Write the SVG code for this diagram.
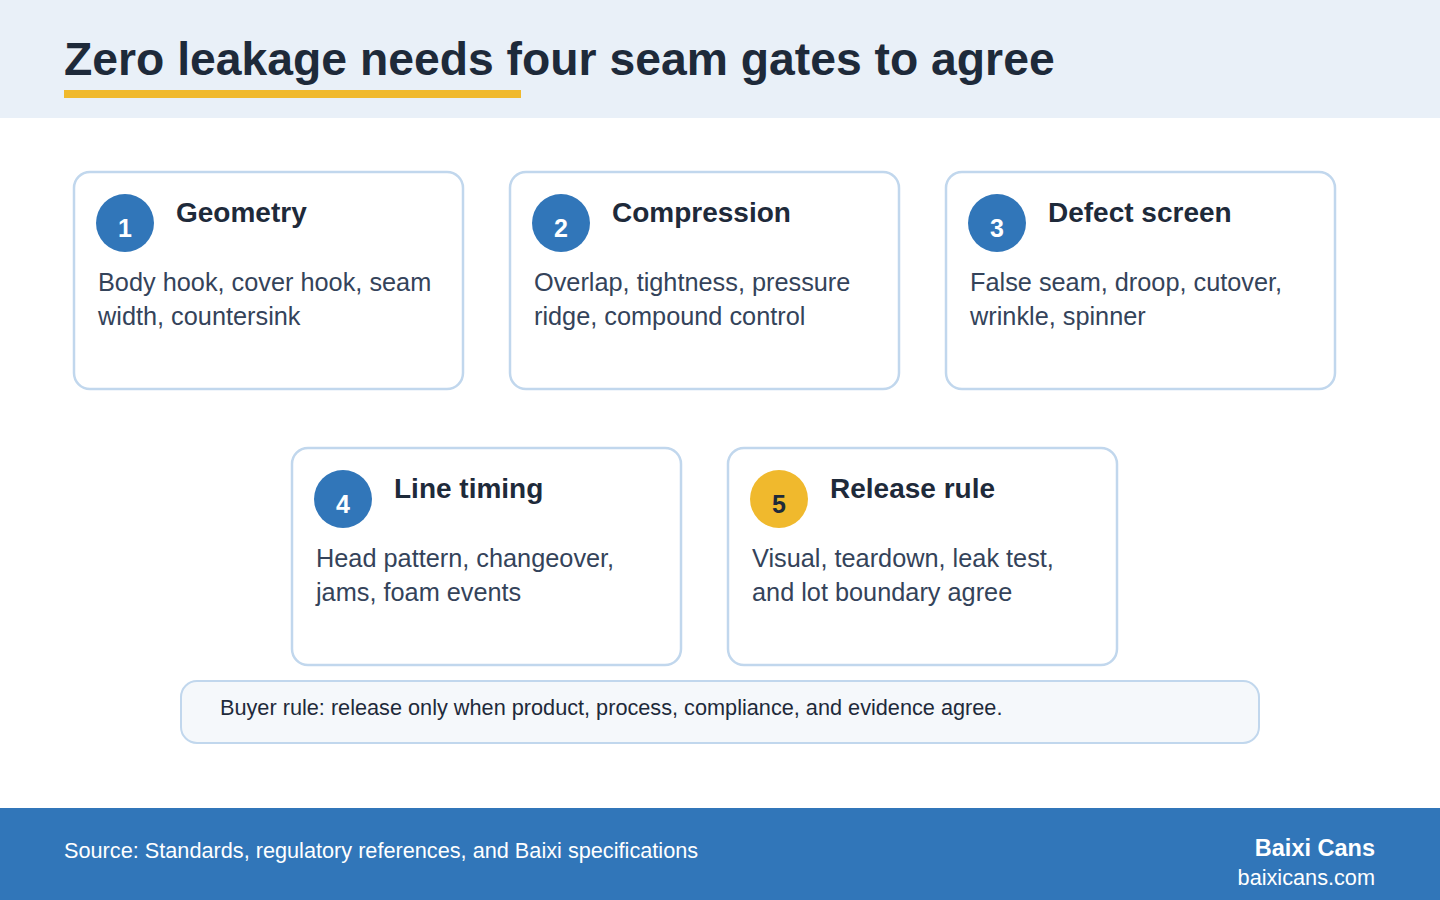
<svg xmlns="http://www.w3.org/2000/svg" width="1440" height="900" viewBox="0 0 1440 900">
<defs>
<style>
.card{fill:#ffffff;stroke:#c1d7ed;stroke-width:2.5}
.badge{fill:#3176b9}
.badge-y{fill:#f0b92d}
.num{font-family:"Liberation Sans",Arial,sans-serif;font-weight:bold;font-size:25px;fill:#ffffff;text-anchor:middle}
.num-d{fill:#1e2a3a}
.ttl{font-family:"Liberation Sans",Arial,sans-serif;font-weight:bold;font-size:28px;fill:#1e2a3a}
.body{font-family:"Liberation Sans",Arial,sans-serif;font-size:25.3px;fill:#34435a}
</style>
</defs>
<rect x="0" y="0" width="1440" height="900" fill="#ffffff"/>
<g id="header">
<rect x="0" y="0" width="1440" height="118" fill="#e9f0f8"/>
<text x="64" y="75" font-family="'Liberation Sans',Arial,sans-serif" font-weight="bold" font-size="46.3" fill="#1e2a3a">Zero leakage needs four seam gates to agree</text>
<rect x="64" y="90" width="457" height="8" fill="#f0b92d"/>
</g>
<g id="connectors"></g>
<g id="node1">
<rect class="card" x="74" y="172" width="389" height="217" rx="16"/>
<circle class="badge" cx="125" cy="223" r="29"/>
<text class="num" x="125" y="237">1</text>
<text class="ttl" x="176" y="222">Geometry</text>
<text class="body" x="98" y="291">Body hook, cover hook, seam</text>
<text class="body" x="98" y="325">width, countersink</text>
</g>
<g id="node2">
<rect class="card" x="510" y="172" width="389" height="217" rx="16"/>
<circle class="badge" cx="561" cy="223" r="29"/>
<text class="num" x="561" y="237">2</text>
<text class="ttl" x="612" y="222">Compression</text>
<text class="body" x="534" y="291">Overlap, tightness, pressure</text>
<text class="body" x="534" y="325">ridge, compound control</text>
</g>
<g id="node3">
<rect class="card" x="946" y="172" width="389" height="217" rx="16"/>
<circle class="badge" cx="997" cy="223" r="29"/>
<text class="num" x="997" y="237">3</text>
<text class="ttl" x="1048" y="222">Defect screen</text>
<text class="body" x="970" y="291">False seam, droop, cutover,</text>
<text class="body" x="970" y="325">wrinkle, spinner</text>
</g>
<g id="node4">
<rect class="card" x="292" y="448" width="389" height="217" rx="16"/>
<circle class="badge" cx="343" cy="499" r="29"/>
<text class="num" x="343" y="513">4</text>
<text class="ttl" x="394" y="498">Line timing</text>
<text class="body" x="316" y="567">Head pattern, changeover,</text>
<text class="body" x="316" y="601">jams, foam events</text>
</g>
<g id="node5">
<rect class="card" x="728" y="448" width="389" height="217" rx="16"/>
<circle class="badge-y" cx="779" cy="499" r="29"/>
<text class="num num-d" x="779" y="513">5</text>
<text class="ttl" x="830" y="498">Release rule</text>
<text class="body" x="752" y="567">Visual, teardown, leak test,</text>
<text class="body" x="752" y="601">and lot boundary agree</text>
</g>
<g id="buyer-rule">
<rect x="181" y="681" width="1078" height="62" rx="16" fill="#f5f8fb" stroke="#c1d7ed" stroke-width="2"/>
<text x="220" y="715" font-family="'Liberation Sans',Arial,sans-serif" font-size="21.7" fill="#1e2a3a">Buyer rule: release only when product, process, compliance, and evidence agree.</text>
</g>
<g id="footer">
<rect x="0" y="808" width="1440" height="92" fill="#3176b9"/>
<text x="64" y="858" font-family="'Liberation Sans',Arial,sans-serif" font-size="21.7" fill="#ffffff">Source: Standards, regulatory references, and Baixi specifications</text>
<text x="1375" y="856" text-anchor="end" font-family="'Liberation Sans',Arial,sans-serif" font-weight="bold" font-size="23.5" fill="#ffffff">Baixi Cans</text>
<text x="1375" y="885" text-anchor="end" font-family="'Liberation Sans',Arial,sans-serif" font-size="21.7" fill="#ffffff">baixicans.com</text>
</g>
</svg>
